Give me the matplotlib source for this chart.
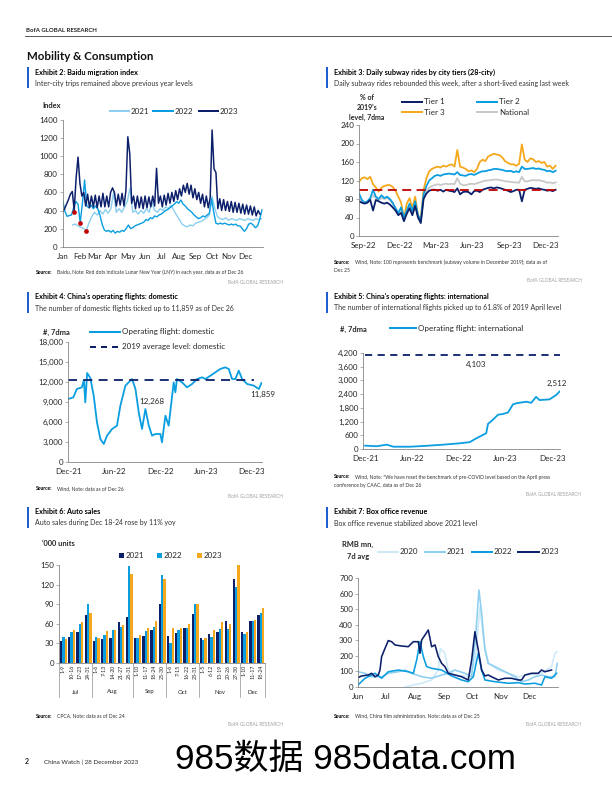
import matplotlib
matplotlib.use("Agg")
import matplotlib.pyplot as plt
import matplotlib.transforms as mtransforms
import numpy as np
from matplotlib.lines import Line2D
from matplotlib.patches import Rectangle

# ==================================================================================================================== #
# data

# Exhibit 2: Baidu migration index (day of year)
baidu_2021 = [240, 250, 230, 215, 200, 180, 260, 330, 380, 350, 400, 360, 410, 370, 420, 600, 380, 420, 380, 440,
              500, 650, 380, 400, 360, 400, 370, 420, 380, 500, 400, 380, 420, 400, 440, 420, 460, 400, 350, 300,
              250, 230, 220, 240, 230, 260, 270, 280, 300, 320, 350, 560, 420, 330, 310, 300, 320, 290, 310, 300,
              290, 310, 300, 290, 310, 300, 290, 310, 300, 310]
baidu_2022 = [516, 390, 335, 345, 350, 430, 500, 470, 265, 480, 737, 450, 430, 460, 420, 450, 420, 350, 250, 185,
              170, 180, 160, 180, 150, 170, 160, 180, 170, 200, 240, 200, 210, 230, 240, 250, 260, 270, 300, 290,
              320, 310, 340, 330, 350, 360, 380, 400, 410, 430, 450, 470, 497, 480, 516, 470, 450, 420, 400, 380,
              350, 330, 310, 320, 340, 330, 350, 370, 530, 380, 260, 250, 260, 250, 260, 250, 240, 250, 240, 250,
              230, 230, 200, 170, 200, 250, 260, 240, 210, 230, 300, 405]
baidu_2023 = [390, 420, 470, 520, 580, 610, 400, 760, 990, 700, 560, 600, 450, 580, 430, 560, 440, 570, 430, 560,
              440, 590, 440, 560, 440, 600, 650, 600, 450, 580, 460, 590, 450, 620, 1215, 1030, 480, 560, 420, 560,
              430, 550, 420, 560, 430, 550, 440, 560, 450, 866, 480, 560, 440, 570, 460, 590, 480, 600, 500, 620,
              520, 640, 560, 680, 600, 700, 580, 680, 540, 640, 520, 600, 480, 580, 440, 560, 430, 540, 1290, 860,
              820, 420, 530, 400, 520, 400, 500, 390, 500, 380, 490, 380, 480, 370, 470, 360, 460, 360, 450, 350,
              440, 340, 400, 360]
lny_days = [21, 31, 43]
lny_values = [387, 265, 177]
month_starts = [0, 31, 59, 90, 120, 151, 181, 212, 243, 273, 304, 334]
month_names = ["Jan", "Feb", "Mar", "Apr", "May", "Jun", "Jul", "Aug", "Sep", "Oct", "Nov", "Dec"]

# Exhibit 3: subway rides, weekly readings, days since 1 Sep 2022
subway_tier1 = [75, 72, 70, 72, 78, 55, 78, 75, 72, 70, 72, 68, 62, 55, 45, 50, 32, 48, 60, 45,
                65, 40, 28, 80, 92, 98, 100, 100, 98, 100, 96, 100, 98, 97, 95, 103, 90, 95, 96, 95,
                90, 97, 98, 95, 100, 102, 104, 105, 103, 105, 104, 102, 100, 98, 95, 97, 100, 100, 75, 100,
                102, 104, 103, 102, 103, 101, 100, 98, 99, 97, 100]
subway_tier2 = [92, 78, 72, 75, 82, 100, 85, 80, 88, 82, 85, 80, 72, 60, 50, 62, 40, 55, 70, 55,
                75, 45, 33, 90, 108, 120, 125, 130, 132, 130, 133, 134, 135, 134, 133, 138, 132, 131, 130, 133,
                134, 132, 135, 138, 140, 140, 142, 143, 145, 145, 144, 143, 141, 140, 141, 138, 140, 138, 150, 145,
                145, 146, 147, 145, 146, 144, 143, 140, 141, 138, 141]
subway_tier3 = [117, 125, 127, 123, 128, 112, 105, 96, 105, 108, 110, 110, 106, 98, 85, 72, 38, 70, 82, 60,
                85, 45, 36, 100, 125, 140, 145, 148, 150, 148, 152, 150, 153, 155, 150, 186, 150, 148, 145, 140,
                142, 138, 145, 160, 165, 162, 172, 175, 178, 176, 175, 170, 162, 158, 155, 155, 152, 156, 198, 165,
                160, 168, 166, 160, 162, 158, 160, 150, 152, 145, 152]
subway_national = [80, 75, 72, 74, 80, 88, 82, 78, 82, 80, 82, 78, 70, 60, 50, 55, 38, 52, 62, 52,
                   70, 42, 33, 85, 98, 105, 108, 110, 112, 110, 112, 113, 112, 113, 112, 125, 113, 110, 110, 112,
                   113, 112, 114, 116, 118, 120, 120, 121, 122, 122, 121, 120, 118, 118, 117, 116, 116, 115, 128, 118,
                   118, 120, 121, 120, 121, 119, 118, 115, 116, 114, 116]
subway_ticks = [0, 91, 181, 273, 365, 456]
subway_ticklabels = ["Sep-22", "Dec-22", "Mar-23", "Jun-23", "Sep-23", "Dec-23"]

# Exhibit 4: domestic flights, days since 1 Dec 2021
domestic_days = [0, 20, 34, 54, 62, 67.6, 75, 87.5, 101, 114, 127.5, 141, 154, 174, 193.5, 207, 227, 240, 253.5,
                 267, 280, 293, 306.6, 320, 333, 346, 366, 372.5, 386, 399, 419, 425.5, 432, 452, 472, 492, 512,
                 531.5, 545, 565, 584.5, 604, 624, 638, 651, 664, 677.6, 691, 711, 737.6, 757.5, 768]
domestic_flights = [9450, 9700, 10950, 11200, 12300, 8950, 13350, 12600, 9950, 5950, 3450, 2700, 3950, 4950, 5450,
                    8450, 11450, 11950, 12450, 10950, 7450, 4950, 7950, 5450, 3950, 4200, 4200, 2950, 6950, 5450,
                    11950, 10450, 12450, 11950, 11200, 11700, 12450, 12700, 12450, 12950, 13450, 13950, 14200,
                    13950, 12450, 12450, 13700, 12450, 11700, 11450, 10950, 11859]
domestic_avg_2019 = 12268

# Exhibit 5: international flights
intl_days = [0, 45, 84, 110, 174, 239, 304, 368, 407, 433, 471, 478, 497, 517, 536, 556, 575, 588, 627, 646, 665,
             678, 717, 743, 756]
intl_flights = [146, 120, 190, 100, 100, 140, 190, 250, 300, 470, 690, 1100, 1280, 1500, 1530, 1600, 1950, 2000,
                2070, 2020, 2280, 2140, 2170, 2360, 2512]
intl_benchmark = 4103
flight_ticks = [0, 182, 365, 547, 730]
flight_ticklabels = ["Dec-21", "Jun-22", "Dec-22", "Jun-23", "Dec-23"]

# Exhibit 6: auto sales, '000 units
auto_weeks = ["1-9", "10-16", "17-23", "24-31", "1-6", "7-13", "14-20", "21-27", "28-31", "1-10", "11-17",
              "18-24", "25-30", "1-6", "7-15", "16-22", "23-31", "1-5", "6-12", "13-19", "20-26", "27-30",
              "1-10", "11-17", "18-24"]
auto_months = ["Jul", "Aug", "Sep", "Oct", "Nov", "Dec"]
auto_month_counts = [4, 5, 4, 4, 5, 3]
auto_2021 = [34, 40, 48, 73, 34, 36, 39, 62, 71, 38, 42, 50, 91, 42, 46, 53, 75, 39, 45, 48, 65, 129, 47, 64, 73]
auto_2022 = [40, 47, 59, 91, 40, 43, 50, 55, 148, 38, 49, 55, 135, 30, 51, 53, 91, 35, 40, 52, 52, 116, 44, 65, 76]
auto_2023 = [36, 50, 62, 76, 39, 49, 51, 58, 136, 43, 53, 64, 128, 53, 53, 60, 90, 38, 50, 62, 59, 150, 48, 66, 84]

# Exhibit 7: box office, days since 1 Jun
box_days_2020 = [50.3, 61, 68.1, 78.8, 85.9, 88, 93, 96.6, 103.7, 118, 125.1, 130.5, 134, 139.4, 150.1, 160.8,
                 171.5, 182.2, 196.4, 207.1, 210.7, 213.2]
box_2020 = [0, 15, 24, 45, 109, 248, 216, 109, 77, 66, 152, 516, 323, 152, 109, 88, 66, 77, 88, 131, 216, 227]
box_days_2021 = [0, 7.5, 14.6, 25.3, 32.4, 43.1, 50.3, 57.4, 68.1, 78.8, 89.5, 96.6, 103.7, 114.4, 121.6, 125.8,
                 129.4, 132.3, 135.8, 139.4, 146.5, 153.6, 160.8, 167.9, 175, 182.2, 189.3, 196.4, 203.6, 210.7,
                 213.2]
box_2021 = [98, 88, 66, 66, 88, 98, 109, 88, 66, 56, 77, 88, 109, 88, 66, 323, 623, 473, 238, 152, 131, 109, 88, 66,
            34, 45, 66, 77, 66, 66, 152]
box_days_2022 = [0, 7.5, 18.2, 25.3, 32.4, 43.1, 53.8, 59.2, 62.8, 66.3, 69.9, 73.4, 78.8, 89.5, 100.2, 110.8, 118,
                 123.4, 128.7, 132.3, 135.8, 146.5, 160.8, 171.5, 178.6, 189.3, 196.4, 200, 207.1, 212.5]
box_2022 = [13, 56, 88, 56, 98, 109, 98, 88, 173, 291, 195, 131, 120, 109, 71, 45, 34, 66, 216, 109, 45, 34, 24, 28,
            19, 24, 13, 66, 56, 88]
box_days_2023 = [0, 3.9, 11, 14.6, 18.2, 21.7, 23.5, 25.3, 28.9, 32.4, 36, 39.6, 46.7, 53.8, 59.2, 64.5, 66.3, 68.1,
                 71.7, 75.2, 78.8, 82.4, 85.9, 89.5, 93, 96.6, 103.7, 110.8, 118, 121.6, 125.1, 128.7, 132.3, 135.8,
                 139.4, 142.9, 150.1, 157.2, 164.3, 171.5, 175, 178.6, 185.7, 192.9, 196.4, 200, 207.1]
box_2023 = [60, 71, 77, 88, 66, 77, 109, 195, 248, 298, 291, 270, 263, 259, 291, 291, 216, 302, 334, 366, 259, 270,
            195, 152, 131, 88, 77, 66, 45, 173, 355, 238, 109, 71, 77, 66, 45, 56, 56, 45, 45, 77, 88, 88, 109, 98,
            109]
box_ticks = [0, 30, 61, 92, 122, 153, 183]
box_ticklabels = ["Jun", "Jul", "Aug", "Sep", "Oct", "Nov", "Dec"]

# ==================================================================================================================== #

W, H = 612, 792
NAVY = "#0b1f6b"
BLUE = "#0a9ee0"
LIGHT = "#8ccff0"
PALE = "#cde9f7"
ORANGE = "#f5a81c"
GREY = "#c8c8c8"
RED = "#c00000"
BAR_BLUE = "#1e5fd0"
TXT = "#262626"

plt.rcParams["font.family"] = ["Lato", "DejaVu Sans"]


def px_axes(fig, left, top, right, bottom):
    return fig.add_axes([left / W, 1 - bottom / H, (right - left) / W, (bottom - top) / H])


def px_text(fig, x, y, s, **kw):
    kw.setdefault("color", TXT)
    fig.text(x / W, 1 - y / H, s, **kw)


def px_line(fig, x0, x1, y0, y1, **kw):
    fig.add_artist(Line2D([x0 / W, x1 / W], [1 - y0 / H, 1 - y1 / H], transform=fig.transFigure, **kw))


def exhibit_header(fig, x, y, title, subtitle):
    fig.add_artist(Rectangle(((x - 8.5) / W, 1 - (y + 15.5) / H), 2.3 / W, 21 / H,
                             transform=fig.transFigure, color=BAR_BLUE, lw=0))
    px_text(fig, x, y, title, fontsize=7.2, fontweight="bold", va="center", color="#000000")
    px_text(fig, x, y + 11, subtitle, fontsize=7, va="center", color="#333333")


def source_note(fig, x, y, lines):
    px_text(fig, x, y, "Source:", fontsize=5, fontweight="bold", va="center", color="#000000")
    px_text(fig, x + 21, y, lines[0], fontsize=5, va="center", color="#333333")
    for i, line in enumerate(lines[1:]):
        px_text(fig, x, y + 9 * (i + 1), line, fontsize=5, va="center", color="#333333")


def bofa_tag(fig, x_right, y):
    px_text(fig, x_right, y, "BofA GLOBAL RESEARCH", fontsize=4.8, ha="right", va="center", color="#a0a0a0")


def legend_line(fig, x0, x1, y, label, color, lw=2.0, ls="-"):
    px_line(fig, x0, x1, y, y, color=color, lw=lw, ls=ls)
    px_text(fig, x1 + 2, y, label, fontsize=8, va="center")


def style_axes(ax, ytick_len=3):
    for side in ("top", "right"):
        ax.spines[side].set_visible(False)
    for side in ("left", "bottom"):
        ax.spines[side].set_color("#7f7f7f")
        ax.spines[side].set_linewidth(0.8)
    ax.tick_params(axis="both", labelsize=8, colors="#7f7f7f", labelcolor=TXT, width=0.6, pad=2)
    ax.tick_params(axis="y", length=ytick_len)
    ax.tick_params(axis="x", length=0, pad=6)


# -------------------------------------------------------------------------------------------------------------------- #

def draw_baidu(fig):
    exhibit_header(fig, 35, 72.5, "Exhibit 2: Baidu migration index",
                   "Inter-city trips remained above previous year levels")
    ax = px_axes(fig, 62.7, 120, 263, 246.7)
    style_axes(ax)
    ax.plot(np.linspace(18, 363, len(baidu_2021)), baidu_2021, color=LIGHT, lw=1.4)
    ax.plot(np.linspace(0, 364, len(baidu_2022)), baidu_2022, color=BLUE, lw=1.4)
    ax.plot(np.linspace(0, 360.5, len(baidu_2023)), baidu_2023, color=NAVY, lw=1.5)
    ax.scatter(lny_days, lny_values, s=22, color=RED, zorder=5, lw=0)
    ax.set_xlim(0, 366)
    ax.set_ylim(0, 1400)
    ax.set_yticks(range(0, 1401, 200))
    ax.set_xticks(month_starts)
    ax.set_xticklabels(month_names)

    px_text(fig, 42, 105, "Index", fontsize=7.5, fontweight="bold", va="center")
    legend_line(fig, 110, 129, 111, "2021", LIGHT)
    legend_line(fig, 153, 173, 111, "2022", BLUE)
    legend_line(fig, 199, 218, 111, "2023", NAVY)
    source_note(fig, 36, 272, ["Baidu, Note: Red dots indicate Lunar New Year (LNY) in each year, data as of Dec 26"])
    bofa_tag(fig, 283, 282)


def draw_subway(fig):
    exhibit_header(fig, 334, 72.7, "Exhibit 3: Daily subway rides by city tiers (28-city)",
                   "Daily subway rides rebounded this week, after a short-lived easing last week")
    ax = px_axes(fig, 359, 125, 558, 236)
    style_axes(ax)
    days = np.linspace(-10, 480, len(subway_tier1))
    ax.plot(days, subway_national, color=GREY, lw=1.8)
    ax.plot(days, subway_tier3, color=ORANGE, lw=1.8)
    ax.plot(days, subway_tier2, color=BLUE, lw=1.8)
    ax.plot(days, subway_tier1, color=NAVY, lw=1.8)
    ax.plot([-10, 480], [100, 100], color=RED, lw=1.8, dashes=(5, 3))
    ax.set_xlim(-10, 486)
    ax.set_ylim(0, 240)
    ax.set_yticks(range(0, 241, 40))
    ax.set_xticks(subway_ticks)
    ax.set_xticklabels(subway_ticklabels)

    for i, s in enumerate(["% of", "2019's", "level, 7dma"]):
        px_text(fig, 367, 97 + 10 * i, s, fontsize=7, fontweight="bold", ha="center", va="center")
    legend_line(fig, 402, 422, 101.7, "Tier 1", NAVY)
    legend_line(fig, 477, 497, 101.7, "Tier 2", BLUE)
    legend_line(fig, 402, 422, 112.3, "Tier 3", ORANGE)
    legend_line(fig, 477, 497, 112.3, "National", GREY)
    source_note(fig, 334, 262, ["Wind, Note: 100 represents benchmark (subway volume in December 2019); data as of",
                                "Dec 25"])
    bofa_tag(fig, 582, 281)


def draw_domestic(fig):
    exhibit_header(fig, 35, 297, "Exhibit 4: China's operating flights: domestic",
                   "The number of domestic flights ticked up to 11,859 as of Dec 26")
    ax = px_axes(fig, 68.3, 342, 262, 462)
    style_axes(ax)
    ax.plot(domestic_days, domestic_flights, color=BLUE, lw=1.8)
    ax.plot([0, 740], [domestic_avg_2019] * 2, color=NAVY, lw=1.8, dashes=(5, 3.5))
    ax.set_xlim(0, 770)
    ax.set_ylim(0, 18000)
    ax.set_yticks(range(0, 18001, 3000))
    ax.set_yticklabels([f"{v:,}" for v in range(0, 18001, 3000)])
    ax.set_xticks(flight_ticks)
    ax.set_xticklabels(flight_ticklabels)
    ax.annotate(f"{domestic_avg_2019:,}", xy=(333, domestic_avg_2019), xytext=(0, -21),
                textcoords="offset points", ha="center", va="center", fontsize=8, color=TXT)
    ax.annotate(f"{domestic_flights[-1]:,}", xy=(domestic_days[-1], domestic_flights[-1]), xytext=(1, -12),
                textcoords="offset points", ha="center", va="center", fontsize=8, color=TXT,
                annotation_clip=False)

    px_text(fig, 43, 332, "#, 7dma", fontsize=7.5, fontweight="bold", va="center")
    legend_line(fig, 90, 120, 332, "Operating flight: domestic", BLUE)
    legend_line(fig, 90, 120, 346.5, "2019 average level: domestic", NAVY, ls=(0, (3, 2.5)))
    source_note(fig, 36, 489, ["Wind, Note: data as of Dec 26"])
    bofa_tag(fig, 283, 497)


def draw_international(fig):
    exhibit_header(fig, 334, 297, "Exhibit 5: China's operating flights: international",
                   "The number of international flights picked up to 61.8% of 2019 April level")
    ax = px_axes(fig, 363.3, 353, 560, 449)
    style_axes(ax)
    ax.plot(intl_days, intl_flights, color=BLUE, lw=1.8)
    ax.plot([0, 758], [intl_benchmark] * 2, color=NAVY, lw=1.8, dashes=(4, 3))
    ax.set_xlim(-7, 758)
    ax.set_ylim(0, 4200)
    ax.set_yticks(range(0, 4201, 600))
    ax.set_yticklabels([f"{v:,}" for v in range(0, 4201, 600)])
    ax.set_xticks(flight_ticks)
    ax.set_xticklabels(flight_ticklabels)
    ax.annotate(f"{intl_benchmark:,}", xy=(434, intl_benchmark), xytext=(0, -9),
                textcoords="offset points", ha="center", va="center", fontsize=8, color=TXT)
    ax.annotate(f"{intl_flights[-1]:,}", xy=(intl_days[-1], intl_flights[-1]), xytext=(-3, 8),
                textcoords="offset points", ha="center", va="center", fontsize=8, color=TXT,
                annotation_clip=False)

    px_text(fig, 340, 329, "#, 7dma", fontsize=7.5, fontweight="bold", va="center")
    legend_line(fig, 390, 416, 328, "Operating flight: international", BLUE)
    source_note(fig, 334, 477, ["Wind, Note: *We have reset the benchmark of pre-COVID level based on the April press",
                                "conference by CAAC, data as of Dec 26"])
    bofa_tag(fig, 581, 494)


def draw_auto(fig):
    exhibit_header(fig, 35, 512, "Exhibit 6: Auto sales", "Auto sales during Dec 18-24 rose by 11% yoy")
    ax = px_axes(fig, 59.3, 565, 265, 663)
    style_axes(ax)
    xs = np.arange(len(auto_weeks))
    w = 0.28
    ax.bar(xs - w, auto_2021, width=w, color=NAVY, lw=0)
    ax.bar(xs, auto_2022, width=w, color=BLUE, lw=0)
    ax.bar(xs + w, auto_2023, width=w, color=ORANGE, lw=0)
    ax.set_xlim(-0.5, len(auto_weeks) - 0.5)
    ax.set_ylim(0, 150)
    ax.set_yticks(range(0, 151, 30))
    ax.set_xticks(xs)
    ax.set_xticklabels(auto_weeks, rotation=90, fontsize=5.3)
    ax.tick_params(axis="x", pad=2)

    # month row below the week labels
    trans = mtransforms.blended_transform_factory(ax.transData, ax.transAxes)
    edges = np.concatenate([[0], np.cumsum(auto_month_counts)]) - 0.5
    for e in edges:
        ax.add_line(Line2D([e, e], [0, -0.35], transform=trans, color="#7f7f7f", lw=0.6, clip_on=False))
    for name, lo, hi in zip(auto_months, edges[:-1], edges[1:]):
        ax.annotate(name, xy=((lo + hi) / 2, 0), xycoords=trans, xytext=(0, -29), textcoords="offset points",
                    ha="center", va="center", fontsize=6, color=TXT)

    px_text(fig, 42, 544, "'000 units", fontsize=7.5, fontweight="bold", va="center")
    for x, label, color in [(119, "2021", NAVY), (157, "2022", BLUE), (197, "2023", ORANGE)]:
        fig.add_artist(Rectangle((x / W, 1 - 557.5 / H), 5 / W, 5 / H, transform=fig.transFigure,
                                 color=color, lw=0))
        px_text(fig, x + 7, 555, label, fontsize=8, va="center")
    source_note(fig, 36, 716, ["CPCA, Note: data as of Dec 24"])
    bofa_tag(fig, 283, 725)


def draw_box_office(fig):
    exhibit_header(fig, 334, 512, "Exhibit 7: Box office revenue", "Box office revenue stabilized above 2021 level")
    ax = px_axes(fig, 358, 578, 558, 687)
    style_axes(ax)
    ax.plot(box_days_2020, box_2020, color=PALE, lw=1.6)
    ax.plot(box_days_2021, box_2021, color=LIGHT, lw=1.6)
    ax.plot(box_days_2022, box_2022, color=BLUE, lw=1.6)
    ax.plot(box_days_2023, box_2023, color=NAVY, lw=1.6)
    ax.set_xlim(0, 214)
    ax.set_ylim(0, 700)
    ax.set_yticks(range(0, 701, 100))
    ax.set_xticks(box_ticks)
    ax.set_xticklabels(box_ticklabels)

    px_text(fig, 358, 544, "RMB mn,", fontsize=7.5, fontweight="bold", ha="center", va="center")
    px_text(fig, 358, 556, "7d avg", fontsize=7.5, fontweight="bold", ha="center", va="center")
    legend_line(fig, 378, 398, 551.7, "2020", PALE)
    legend_line(fig, 425, 445, 551.7, "2021", LIGHT)
    legend_line(fig, 472, 492, 551.7, "2022", BLUE)
    legend_line(fig, 518, 539, 551.7, "2023", NAVY)
    source_note(fig, 334, 716, ["Wind, China film administration, Note: data as of Dec 25"])
    bofa_tag(fig, 581, 725)


# ==================================================================================================================== #

def main():
    fig = plt.figure(figsize=(W / 72, H / 72), dpi=72)

    px_text(fig, 26, 30.5, "BofA GLOBAL RESEARCH", fontsize=6, fontweight="bold", va="center", color="#222222")
    px_line(fig, 25, 612, 36, 36, color="#333333", lw=0.8)
    px_text(fig, 27, 57, "Mobility & Consumption", fontsize=11.5, fontweight="bold", va="center", color="#111111")

    draw_baidu(fig)
    draw_subway(fig)
    draw_domestic(fig)
    draw_international(fig)
    draw_auto(fig)
    draw_box_office(fig)

    px_text(fig, 25, 762, "2", fontsize=7, fontweight="bold", va="center")
    px_text(fig, 44, 762, "China Watch | 28 December 2023", fontsize=6.3, va="center")
    px_text(fig, 175, 759, "985数据 985data.com", fontsize=35, va="center", color="#000000",
            family=["Liberation Sans", "Noto Sans CJK SC"])

    fig.savefig("out.png", dpi=72, facecolor="white")


if __name__ == '__main__':
    main()
